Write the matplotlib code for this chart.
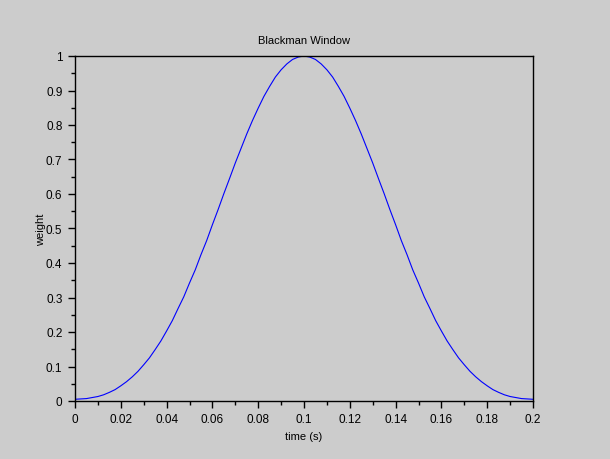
import matplotlib
matplotlib.use("Agg")
import matplotlib.pyplot as plt
from matplotlib.ticker import MultipleLocator

# Blackman window, every 2.5 ms
time_s = [0.0000, 0.0025, 0.0050, 0.0075, 0.0100, 0.0125, 0.0150, 0.0175, 0.0200,
          0.0225, 0.0250, 0.0275, 0.0300, 0.0325, 0.0350, 0.0375, 0.0400, 0.0425,
          0.0450, 0.0475, 0.0500, 0.0525, 0.0550, 0.0575, 0.0600, 0.0625, 0.0650,
          0.0675, 0.0700, 0.0725, 0.0750, 0.0775, 0.0800, 0.0825, 0.0850, 0.0875,
          0.0900, 0.0925, 0.0950, 0.0975, 0.1000, 0.1025, 0.1050, 0.1075, 0.1100,
          0.1125, 0.1150, 0.1175, 0.1200, 0.1225, 0.1250, 0.1275, 0.1300, 0.1325,
          0.1350, 0.1375, 0.1400, 0.1425, 0.1450, 0.1475, 0.1500, 0.1525, 0.1550,
          0.1575, 0.1600, 0.1625, 0.1650, 0.1675, 0.1700, 0.1725, 0.1750, 0.1775,
          0.1800, 0.1825, 0.1850, 0.1875, 0.1900, 0.1925, 0.1950, 0.1975, 0.2000]
weight = [0.005, 0.006, 0.007, 0.010, 0.013, 0.018, 0.025, 0.033, 0.044,
          0.056, 0.070, 0.086, 0.105, 0.125, 0.149, 0.174, 0.203, 0.233,
          0.268, 0.302, 0.342, 0.380, 0.424, 0.465, 0.511, 0.555, 0.601,
          0.645, 0.690, 0.732, 0.774, 0.813, 0.849, 0.883, 0.912, 0.939,
          0.960, 0.977, 0.990, 0.997, 1.000, 0.997, 0.990, 0.977, 0.960,
          0.939, 0.912, 0.883, 0.849, 0.813, 0.774, 0.732, 0.690, 0.645,
          0.601, 0.555, 0.511, 0.465, 0.424, 0.380, 0.342, 0.302, 0.268,
          0.233, 0.203, 0.174, 0.149, 0.125, 0.105, 0.086, 0.070, 0.056,
          0.044, 0.033, 0.025, 0.018, 0.013, 0.010, 0.007, 0.006, 0.005]

bg = '#cccccc'
plt.rcParams['font.family'] = ['Liberation Sans', 'DejaVu Sans']

fig = plt.figure(figsize=(6.1, 4.6), dpi=100, facecolor=bg)
ax = fig.add_axes([75/610, 1 - 402/460, 458/610, 345/460], facecolor=bg)

ax.plot(time_s, weight, color='#0000ff', lw=0.8)

ax.set_xlim(0, 0.2)
ax.set_ylim(0, 1)
ax.xaxis.set_major_locator(MultipleLocator(0.02))
ax.xaxis.set_minor_locator(MultipleLocator(0.01))
ax.yaxis.set_major_locator(MultipleLocator(0.1))
ax.yaxis.set_minor_locator(MultipleLocator(0.05))
ax.set_xticklabels([f"{v:g}" for v in ax.get_xticks()])
ax.set_yticklabels([f"{v:g}" for v in ax.get_yticks()])

ax.tick_params(which='major', direction='out', length=5, width=1, labelsize=8.5, pad=4)
ax.tick_params(which='minor', direction='out', length=3, width=1)
for s in ax.spines.values():
    s.set_linewidth(1)

ax.set_title("Blackman Window", fontsize=8, pad=9)
ax.set_xlabel("time (s)", fontsize=8, labelpad=4)
ax.set_ylabel("weight", fontsize=8, labelpad=0)

fig.savefig("out.png", dpi=100, facecolor=bg)
